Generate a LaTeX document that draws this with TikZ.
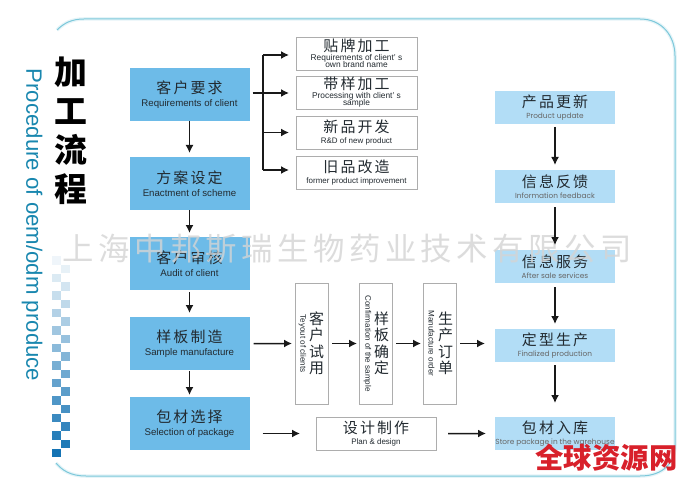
\documentclass[tikz,border=0pt]{standalone}
\usepackage{fontspec}
\usepackage{xcolor}
\usepackage{tikz}
\usetikzlibrary{positioning,arrows.meta,calc}
\setmainfont{Liberation Sans}
\newfontfamily\cjk[LetterSpace=14]{Noto Sans CJK SC}
\newfontfamily\cjkplain{Noto Sans CJK SC}
\newfontfamily\enright{Poppins}
\definecolor{deepblue}{HTML}{6DBBE8}
\definecolor{paleblue}{HTML}{B2DDF6}
\definecolor{frameline}{HTML}{7CC8DA}
\definecolor{boxline}{HTML}{ADADAD}
\definecolor{inkdark}{HTML}{222A30}
\definecolor{redmark}{HTML}{D8202A}
\definecolor{checkblue}{HTML}{1473B4}
\definecolor{titleblue}{HTML}{1987AF}
\newcommand{\cnen}[2]{{\cjk\fontsize{15}{15}\selectfont #1}\\{\fontsize{9.7}{9}\selectfont #2}}
\newcommand{\cnensmall}[2]{{\cjk\fontsize{15}{15}\selectfont #1}\\{\fontsize{8}{8}\selectfont #2}}
\newcommand{\cnenr}[2]{{\cjk\fontsize{15}{15}\selectfont #1}\\{\enright\fontsize{7.4}{9}\selectfont\color{black!60} #2}}
\newcommand{\cnentwo}[3]{{\cjk\fontsize{15}{13}\selectfont #1}\\[-2.5pt]{\fontsize{8.4}{8}\selectfont #2}\\[-3.5pt]{\fontsize{8.4}{8}\selectfont #3}}

\begin{document}
\begin{tikzpicture}[
  x=1bp, y=1bp,
  node distance=26bp,
  every node/.style={execute at begin node={\lineskiplimit=-30pt}},
  bluebox/.style={fill=deepblue, text=inkdark, align=center, inner sep=0pt, outer sep=0pt, minimum width=120bp, minimum height=53bp, font=\fontsize{9}{13}\selectfont},
  palebox/.style={fill=paleblue, text=inkdark, align=center, inner sep=0pt, outer sep=0pt, minimum width=120bp, minimum height=33bp, font=\fontsize{9}{11}\selectfont},
  whitebox/.style={draw=boxline, fill=white, text=inkdark, align=center, inner sep=0pt, outer sep=0pt, minimum width=121bp, minimum height=33bp, font=\fontsize{9}{11}\selectfont},
  tallbox/.style={draw=boxline, fill=white, inner sep=0pt, outer sep=0pt, minimum width=33bp, minimum height=121bp},
  tallcn/.style={text=inkdark, align=center, inner sep=0pt, font=\cjkplain\fontsize{15}{16.5}\selectfont},
  tallen/.style={text=inkdark, rotate=-90, inner sep=0pt, font=\fontsize{8.1}{9}\selectfont},
  arrow/.style={-{Latex[length=8bp,width=8bp]}, line width=1.5bp, black!90}
]
\useasboundingbox (0,0) rectangle (689,-482);
\fill[white] (0,0) rectangle (689,-482);

% frame
\draw[frameline!20, line width=3.5bp] (57,-30) .. controls (64,-23) and (72,-19) .. (84,-19) -- (640,-19) .. controls (662,-19) and (675,-36) .. (675,-56) -- (675,-445) .. controls (675,-462) and (664,-476) .. (640,-476) -- (86,-476) .. controls (70,-476) and (62,-470) .. (56,-463);
\draw[frameline, line width=1bp] (57,-30) .. controls (64,-23) and (72,-19) .. (84,-19) -- (640,-19) .. controls (662,-19) and (675,-36) .. (675,-56) -- (675,-445) .. controls (675,-462) and (664,-476) .. (640,-476) -- (86,-476) .. controls (70,-476) and (62,-470) .. (56,-463);

% checker strip
\foreach \i in {0,...,11}{
  \pgfmathsetmacro{\shade}{1-.085*\i}
  \fill[checkblue, opacity=\shade] (52.3,{-457+17.5*\i}) rectangle +(9,8.4);
}
\foreach \i in {0,...,10}{
  \pgfmathsetmacro{\shade}{.95-.085*\i}
  \fill[checkblue, opacity=\shade] (61.3,{-448.3+17.5*\i}) rectangle +(8.8,8.4);
}

% titles
\node[inner sep=0pt, align=center, text=black, font=\cjkplain\bfseries\fontsize{33}{39}\selectfont] (titlecn) at (71,-131) {加\\工\\流\\程};
\node[rotate=-90, inner sep=0pt, text=titleblue, font=\fontsize{22.3}{26}\selectfont] (titleen) at (32,-225) {Procedure of oem/odm produce};

% left column
\node[bluebox] (reqclient) at (189.5,-94.5) {\cnen{客户要求}{Requirements of client}};
\node[bluebox, below=36bp of reqclient] (scheme) {\cnen{方案设定}{Enactment of scheme}};
\node[bluebox, below=27bp of scheme] (audit) {\cnen{客户审核}{Audit of client}};
\node[bluebox, below=27bp of audit] (sample) {\cnen{样板制造}{Sample manufacture}};
\node[bluebox, below=27bp of sample] (package) {\cnen{包材选择}{Selection of package}};

% service boxes
\node[whitebox] (brand) at (356.5,-53.5) {\cnentwo{贴牌加工}{Requirements of client’ s}{own brand name}};
\node[whitebox, below=6bp of brand] (processing) {\cnentwo{带样加工}{Processing with client’ s}{sample}};
\node[whitebox, below=7bp of processing] (newprod) {\cnensmall{新品开发}{R\&D of new product}};
\node[whitebox, below=7bp of newprod] (oldprod) {\cnensmall{旧品改造}{former product improvement}};

% trial boxes
\node[tallbox] (tryout) at (311.5,-343.5) {};
\node[tallbox, right=31bp of tryout] (confirm) {};
\node[tallbox, right=31bp of confirm] (order) {};
\node[tallcn] (tryoutcn) at ([xshift=5bp]tryout.center) {客\\户\\试\\用};
\node[tallen] (tryouten) at ([xshift=-9bp]tryout.center) {Teyout of clients};
\node[tallcn] (confirmcn) at ([xshift=6bp]confirm.center) {样\\板\\确\\定};
\node[tallen] (confirmen) at ([xshift=-8bp]confirm.center) {Confirmation of the sample};
\node[tallcn] (ordercn) at ([xshift=6bp]order.center) {生\\产\\订\\单};
\node[tallen] (orderen) at ([xshift=-8bp]order.center) {Manufacture order};
\node[whitebox, minimum width=120bp] (plan) at (376,-433.5) {\cnensmall{设计制作}{Plan \& design}};

% right column
\node[palebox] (update) at (555,-107.5) {\cnenr{产品更新}{Product update}};
\node[palebox, below=46bp of update] (feedback) {\cnenr{信息反馈}{Information feedback}};
\node[palebox, below=47bp of feedback] (aftersale) {\cnenr{信息服务}{After sale services}};
\node[palebox, below=46bp of aftersale] (finalized) {\cnenr{定型生产}{Finalized production}};
\node[palebox, below=55bp of finalized] (store) {\cnenr{包材入库}{Store package in the warehouse}};

% watermark
\node[inner sep=0pt, text=black!17, text opacity=.8, font=\cjkplain\fontsize{31.5}{31}\selectfont] (watermark) at (347,-249) {\addfontfeature{LetterSpace=14.2}上海中邦斯瑞生物药业技术有限公司};

% links
\coordinate (branch) at (263,-93);
\draw[line width=1.5bp, black!90, shorten <=3bp] (reqclient.east |- branch) -- (branch);
\draw[line width=1.5bp, black!90] ($(branch |- brand)+(0,-1.5)$) -- ($(branch |- oldprod)+(0,2.5)$);
\draw[arrow, shorten >=7bp] (branch) -- (branch -| processing.west);
\draw[arrow, shorten >=7bp] ($(branch |- brand)+(0,-1.5)$) -- ($(brand.west)+(0,-1.5)$);
\draw[arrow, shorten >=7bp] (branch |- newprod) -- (newprod.west);
\draw[arrow, shorten >=7bp] ($(branch |- oldprod)+(0,2.5)$) -- ($(oldprod.west)+(0,2.5)$);

\draw[arrow, shorten >=4bp] (reqclient) -- (scheme);
\draw[arrow, shorten >=4bp] (scheme) -- (audit);
\draw[arrow, shorten <=2bp, shorten >=4bp] (audit) -- (sample);
\draw[arrow, shorten <=1bp, shorten >=2bp] (sample) -- (package);

\draw[arrow, shorten <=4bp, shorten >=3bp] (sample) -- (tryout);
\draw[arrow, shorten <=4bp, shorten >=2bp] (tryout) -- (confirm);
\draw[arrow, shorten <=4bp, shorten >=2bp] (confirm) -- (order);
\draw[arrow, shorten <=4bp, shorten >=10bp] (order) -- (order -| finalized.west);
\draw[arrow, shorten <=13bp, shorten >=16bp] (package.east |- plan) -- (plan);
\draw[arrow, shorten <=12bp, shorten >=9bp] (plan) -- (store);

\draw[arrow, shorten <=3bp, shorten >=5bp] (update) -- (feedback);
\draw[arrow, shorten <=4bp, shorten >=5bp] (feedback) -- (aftersale);
\draw[arrow, shorten <=4bp, shorten >=5bp] (aftersale) -- (finalized);
\draw[arrow, shorten <=3bp, shorten >=14bp] (finalized) -- (store);

% site mark
\node[inner sep=0pt, text=redmark, font=\cjkplain\bfseries\fontsize{28.5}{30}\selectfont] (sitemark) at (606.5,-457.5) {全球资源网};
\end{tikzpicture}
\end{document}
